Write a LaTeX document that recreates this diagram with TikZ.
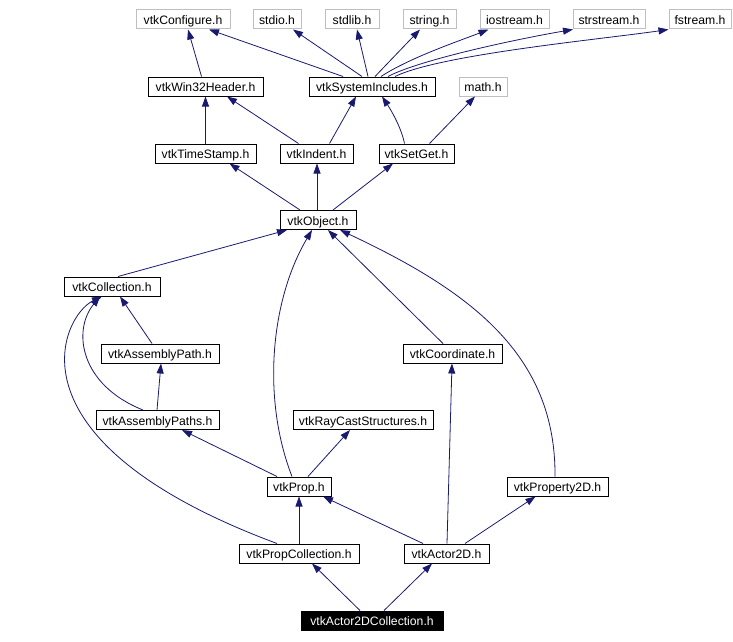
\documentclass[tikz,border=0pt]{standalone}
\usepackage{fontspec}
\setmainfont{Liberation Sans}
\usetikzlibrary{arrows.meta}

\definecolor{edgeblue}{HTML}{191970}
\definecolor{sysgray}{HTML}{BFBFBF}

\begin{document}
\begin{tikzpicture}[
    x=1pt, y=-1pt,
    hdr/.style={draw, line width=1pt, minimum height=19pt, inner sep=0pt, text height=11pt, text depth=0.6pt},
    sys/.style={hdr, draw=sysgray},
    self/.style={hdr, fill=black, text=white},
    dep/.style={draw=edgeblue, line width=0.8pt, -{Triangle[length=10pt, width=7pt]}, edgeblue},
    font=\fontsize{12.2}{14}\selectfont
  ]
    \useasboundingbox (0,0) rectangle (733,642);
    \node[sys, minimum width=94pt] (configure) at (183,19.5) {vtkConfigure.h};
    \node[sys, minimum width=48pt] (stdio) at (277,19.5) {stdio.h};
    \node[sys, minimum width=54pt] (stdlib) at (352,19.5) {stdlib.h};
    \node[sys, minimum width=53pt] (string) at (429.5,19.5) {string.h};
    \node[sys, minimum width=69pt] (iostream) at (514.5,19.5) {iostream.h};
    \node[sys, minimum width=72pt] (strstream) at (609,19.5) {strstream.h};
    \node[sys, minimum width=62pt] (fstream) at (700,19.5) {fstream.h};
    \node[hdr, minimum width=115pt] (win32) at (205.5,86.5) {vtkWin32Header.h};
    \node[hdr, minimum width=126pt] (sysinc) at (372,86.5) {vtkSystemIncludes.h};
    \node[sys, minimum width=48pt] (math) at (483,86.5) {math.h};
    \node[hdr, minimum width=101pt] (timestamp) at (205.5,153.5) {vtkTimeStamp.h};
    \node[hdr, minimum width=73pt] (indent) at (316.5,153.5) {vtkIndent.h};
    \node[hdr, minimum width=75pt] (setget) at (416.5,153.5) {vtkSetGet.h};
    \node[hdr, minimum width=76pt] (object) at (318,220) {vtkObject.h};
    \node[hdr, minimum width=96pt] (collection) at (112,286.5) {vtkCollection.h};
    \node[hdr, minimum width=118pt] (asmpath) at (160,353.5) {vtkAssemblyPath.h};
    \node[hdr, minimum width=99pt] (coordinate) at (452.5,353.5) {vtkCoordinate.h};
    \node[hdr, minimum width=123pt] (asmpaths) at (157.5,420) {vtkAssemblyPaths.h};
    \node[hdr, minimum width=140pt] (raycast) at (363,420) {vtkRayCastStructures.h};
    \node[hdr, minimum width=64pt] (prop) at (299,486.5) {vtkProp.h};
    \node[hdr, minimum width=101pt] (property2d) at (557.5,486.5) {vtkProperty2D.h};
    \node[hdr, minimum width=120pt] (propcoll) at (299,553.5) {vtkPropCollection.h};
    \node[hdr, minimum width=85pt] (actor2d) at (446.5,553.5) {vtkActor2D.h};
    \node[self, minimum width=142pt] (a2dc) at (372,620.5) {vtkActor2DCollection.h};

    \draw[dep] ([xshift=-4pt]win32.north) -- ([xshift=5pt]configure.south);
    \draw[dep] ([xshift=-29pt]sysinc.north) -- ([xshift=26pt]configure.south);
    \draw[dep] ([xshift=-10pt]sysinc.north) -- ([xshift=16pt]stdio.south);
    \draw[dep] ([xshift=-4pt]sysinc.north) -- ([xshift=5pt]stdlib.south);
    \draw[dep] ([xshift=3pt]sysinc.north) -- ([xshift=-9.5pt]string.south);
    \draw[dep] ([xshift=9pt]sysinc.north) .. controls +(29,-19) and +(-28,11) .. ([xshift=-26pt]iostream.south);
    \draw[dep] ([xshift=16pt]sysinc.north) .. controls +(32,-17) and +(-53,9) .. ([xshift=-36pt]strstream.south);
    \draw[dep] ([xshift=23pt]sysinc.north) .. controls +(45,-22) and +(-69,10) .. (fstream.south west);
    \draw[dep] (timestamp) -- (win32);
    \draw[dep] ([xshift=-18pt]indent.north) -- ([xshift=21.5pt]win32.south);
    \draw[dep] ([xshift=13pt]indent.north) -- ([xshift=-16pt]sysinc.south);
    \draw[dep] ([xshift=-12pt]setget.north) .. controls +(-3,-15) and +(10,15) .. ([xshift=10pt]sysinc.south);
    \draw[dep] ([xshift=13pt]setget.north) -- ([xshift=-8pt]math.south);
    \draw[dep] ([xshift=-18pt]object.north) -- ([xshift=24pt]timestamp.south);
    \draw[dep] ([xshift=-1pt]object.north) -- ([xshift=0.5pt]indent.south);
    \draw[dep] ([xshift=15pt]object.north) -- ([xshift=-23.5pt]setget.south);
    \draw[dep] ([xshift=6pt]collection.north) -- ([xshift=-31pt]object.south);
    \draw[dep] ([xshift=-7pt]prop.north) .. controls +(-30,-77) and +(-42,71) .. ([xshift=-6pt]object.south);
    \draw[dep] ([xshift=-9.5pt]coordinate.north) -- ([xshift=10pt]object.south);
    \draw[dep] ([xshift=-2.5pt]property2d.north) .. controls +(1,-122) and +(130,61) .. ([xshift=22pt]object.south);
    \draw[dep] ([xshift=-8pt]asmpath.north) -- ([xshift=8pt]collection.south);
    \draw[dep] ([xshift=-0.5pt]asmpaths.north) -- ([xshift=1pt]asmpath.south);
    \draw[dep] ([xshift=-14.5pt]asmpaths.north) .. controls +(-63,-25) and +(-28,34) .. ([xshift=-12pt]collection.south);
    \draw[dep] ([xshift=-22pt]propcoll.north) .. controls +(-277,-103) and +(-40,19) .. ([xshift=-10pt]collection.south);
    \draw[dep] ([xshift=-22pt]prop.north) -- ([xshift=24.5pt]asmpaths.south);
    \draw[dep] ([xshift=9pt]prop.north) -- ([xshift=-13pt]raycast.south);
    \draw[dep] (propcoll) -- (prop);
    \draw[dep] ([xshift=-23.5pt]actor2d.north) -- ([xshift=24pt]prop.south);
    \draw[dep] ([xshift=0.5pt]actor2d.north) -- ([xshift=-0.5pt]coordinate.south);
    \draw[dep] ([xshift=18.5pt]actor2d.north) -- ([xshift=-22pt]property2d.south);
    \draw[dep] ([xshift=-12pt]a2dc.north) -- ([xshift=13pt]propcoll.south);
    \draw[dep] ([xshift=12pt]a2dc.north) -- ([xshift=-14.5pt]actor2d.south);
  \end{tikzpicture}
\end{document}
